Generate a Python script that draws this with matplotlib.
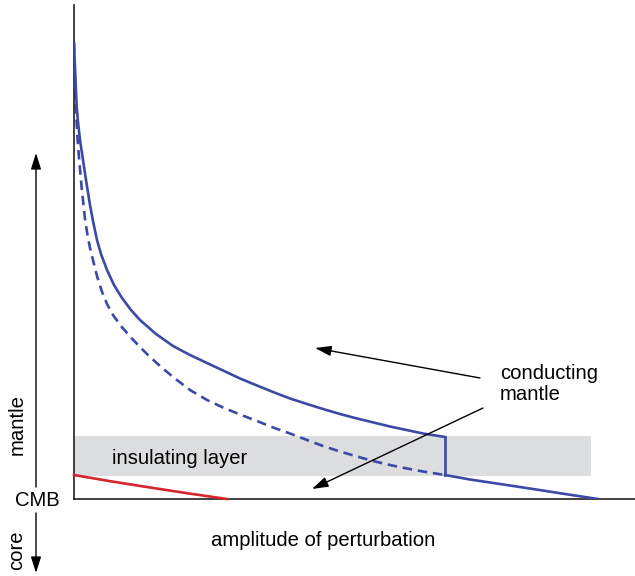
import numpy as np
import matplotlib
matplotlib.use('Agg')
import matplotlib.pyplot as plt

plt.rcParams['font.family'] = ['Liberation Sans', 'DejaVu Sans']

# amplitude (x) vs height above CMB (y)
upper_x = [0, 1.5, 2.7, 4, 6, 9, 12, 16, 19, 23, 27, 33, 40, 48, 57, 66, 82, 99,
           116, 133, 149, 166, 183, 199, 216, 233, 249, 266, 283, 316, 349, 371]
upper_y = [456, 419, 392, 377, 359, 339, 319, 294, 278, 259, 245, 229, 214, 201,
           189, 179, 165, 153, 144, 136, 128.5, 120.5, 113.5, 107, 100.5, 95, 90,
           85, 80.5, 72.5, 65.5, 62]

dashed_x = [0, 1, 2, 3.5, 5, 7.7, 11, 13.5, 16, 19, 23, 27.7, 33, 39, 47, 56, 66,
            74, 86, 99, 116, 133, 149, 166, 183, 199, 216, 233, 249, 266, 283,
            299, 316, 333, 349, 371]
dashed_y = [456, 417, 388, 361, 341, 311, 280, 264, 251, 239, 223, 208, 195, 184,
            173, 162.5, 152, 144, 133, 122, 109, 99, 91.5, 84.5, 78, 71.5, 65.5,
            59, 53, 47.5, 42.5, 38, 34, 30.5, 27.5, 24]

lower_x = [371, 396, 426, 459, 491, 524]
lower_y = [24, 19.5, 15, 10, 5, 0]

step_x = [371, 371]
step_y = [62, 24]

red_x = [0, 38, 76, 115, 153]
red_y = [24, 17.5, 11.5, 5.5, 0]

band_x = (0, 517)
band_y = (23, 63)

blue = '#3a4aa6'
red = '#d6252d'

fig = plt.figure(figsize=(6.35, 5.76), dpi=100)
ax = fig.add_axes([74/635, 77/576, 561/635, 494/576])
ax.set_xlim(0, 561)
ax.set_ylim(0, 494)

ax.fill_between(band_x, band_y[0], band_y[1], color='#dcddde', lw=0, zorder=1)

ax.plot(dashed_x, dashed_y, color=blue, lw=1.9, ls=(0, (3.6, 2.2)), zorder=2)
ax.plot(upper_x, upper_y, color=blue, lw=1.9, zorder=3)
ax.plot(lower_x, lower_y, color=blue, lw=1.9, zorder=3)
ax.plot(step_x, step_y, color=blue, lw=1.9, zorder=3)
ax.plot(red_x, red_y, color=red, lw=1.9, zorder=3, clip_on=False)

for s in ['top', 'right']:
    ax.spines[s].set_visible(False)
for s in ['left', 'bottom']:
    ax.spines[s].set_color('#231f20')
    ax.spines[s].set_linewidth(1.2)
ax.set_xticks([])
ax.set_yticks([])

fs = 14.6
ax.text(106, 40, 'insulating layer', fontsize=fs, ha='center', va='center', zorder=4)
ax.text(426, 115, 'conducting\nmantle', fontsize=fs, ha='left', va='center',
        linespacing=1.13)
ax.text(249, -41, 'amplitude of perturbation', fontsize=fs, ha='center', va='center',
        clip_on=False)
ax.text(-37, -1, 'CMB', fontsize=fs, ha='center', va='center', clip_on=False)
ax.text(-57, 74, 'mantle', fontsize=fs, ha='center', va='center', rotation=90,
        clip_on=False)
ax.text(-57, -51, 'core', fontsize=fs, ha='center', va='center', rotation=90,
        clip_on=False)

arw = dict(arrowstyle='-|>,head_length=0.7,head_width=0.22', color='black',
           lw=1.0, shrinkA=0, shrinkB=0, mutation_scale=14)
ax.annotate('', xy=(-38, 346), xytext=(-38, 12), arrowprops=arw, annotation_clip=False)
ax.annotate('', xy=(-38, -74), xytext=(-38, -14), arrowprops=arw, annotation_clip=False)
ax.annotate('', xy=(241, 151), xytext=(406, 121), arrowprops=arw, zorder=5)
ax.annotate('', xy=(238, 10), xytext=(409, 91), arrowprops=arw, zorder=5)

fig.savefig('out.png', dpi=100)
